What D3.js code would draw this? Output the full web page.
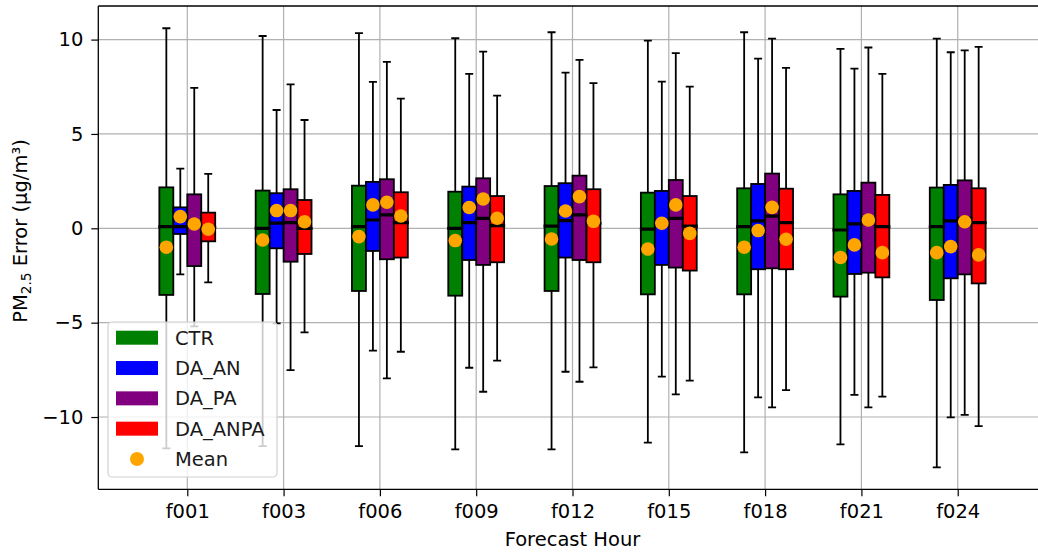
<!DOCTYPE html>
<html>
<head>
<meta charset="utf-8">
<script src="https://cdn.jsdelivr.net/npm/d3@7"></script>
<style>
  html, body { margin: 0; padding: 0; background: #fff; }
  svg { display: block; font-family: "DejaVu Sans", sans-serif; }
</style>
</head>
<body>
<svg id="chart" width="1038" height="554"></svg>
<script>
// ---------- data ----------
const categories = ["f001", "f003", "f006", "f009", "f012", "f015", "f018", "f021", "f024"];
const seriesNames = ["CTR", "DA_AN", "DA_PA", "DA_ANPA"];
const seriesColors = ["#008000", "#0000ff", "#800080", "#ff0000"];
const yTicks = [-10, -5, 0, 5, 10];

// [whiskerLow, q1, median, q3, whiskerHigh]
const ctrBoxes = [
  [-11.66, -3.53, 0.09, 2.17, 10.60],
  [-11.54, -3.48, 0.00, 2.00, 10.19],
  [-11.54, -3.32, 0.09, 2.26, 10.34],
  [-11.71, -3.57, 0.00, 1.94, 10.07],
  [-11.71, -3.32, 0.12, 2.24, 10.39],
  [-11.36, -3.50, -0.04, 1.89, 9.95],
  [-11.87, -3.50, 0.09, 2.12, 10.39],
  [-11.45, -3.62, -0.09, 1.80, 9.51],
  [-12.67, -3.80, 0.09, 2.16, 10.05]
];
const daAnBoxes = [
  [-2.44, -0.30, 0.09, 1.11, 3.16],
  [-5.04, -1.06, 0.27, 1.86, 6.27],
  [-6.48, -1.20, 0.44, 2.46, 7.76],
  [-7.39, -1.68, 0.30, 2.21, 8.18],
  [-7.60, -1.55, 0.41, 2.39, 8.25],
  [-7.86, -1.94, 0.21, 1.98, 7.77],
  [-8.96, -2.17, 0.39, 2.35, 8.99],
  [-8.83, -2.42, 0.23, 1.98, 8.46],
  [-10.02, -2.65, 0.39, 2.30, 9.33]
];
const daPaBoxes = [
  [-5.20, -2.00, 0.09, 1.80, 7.44],
  [-7.51, -1.77, 0.30, 2.07, 7.63],
  [-7.95, -1.64, 0.71, 2.60, 8.82],
  [-8.66, -1.94, 0.53, 2.65, 9.36],
  [-8.13, -1.68, 0.71, 2.79, 8.92],
  [-8.80, -2.08, 0.53, 2.56, 9.28],
  [-9.49, -2.12, 0.65, 2.90, 10.05],
  [-9.49, -2.35, 0.44, 2.42, 9.58],
  [-9.89, -2.44, 0.53, 2.54, 9.43]
];
const daAnpaBoxes = [
  [-2.86, -0.69, 0.05, 0.83, 2.88],
  [-5.51, -1.36, 0.00, 1.50, 5.74],
  [-6.54, -1.55, 0.30, 1.91, 6.87],
  [-7.01, -1.80, 0.14, 1.71, 7.03],
  [-7.37, -1.80, 0.27, 2.07, 7.69],
  [-8.07, -2.24, 0.12, 1.71, 7.51],
  [-8.57, -2.17, 0.30, 2.10, 8.50],
  [-8.92, -2.60, 0.09, 1.77, 8.18],
  [-10.48, -2.92, 0.30, 2.12, 9.61]
];
const ctrMeans    = [-1.00, -0.62, -0.44, -0.65, -0.57, -1.10, -1.00, -1.55, -1.29];
const daAnMeans   = [0.62, 0.94, 1.24, 1.10, 0.92, 0.27, -0.12, -0.88, -0.97];
const daPaMeans   = [0.23, 0.94, 1.38, 1.55, 1.68, 1.24, 1.11, 0.44, 0.35];
const daAnpaMeans = [-0.05, 0.35, 0.65, 0.53, 0.37, -0.27, -0.58, -1.29, -1.41];

const allBoxes = [ctrBoxes, daAnBoxes, daPaBoxes, daAnpaBoxes];
const allMeans = [ctrMeans, daAnMeans, daPaMeans, daAnpaMeans];

// ---------- layout ----------
const svg = d3.select("#chart");
const plot = { left: 98.3, right: 1046.7, top: 6, bottom: 489.3 };
const FONT = 19.5;

const x = d3.scaleLinear().domain([-0.924, 8.924]).range([plot.left, plot.right]);
const y = d3.scaleLinear().domain([-13.83, 11.78]).range([plot.bottom, plot.top]);
const sub = d3.scaleBand().domain(seriesNames).range([-0.29, 0.29]).padding(0);

svg.append("defs").append("clipPath").attr("id", "clip")
  .append("rect").attr("x", plot.left).attr("y", plot.top)
  .attr("width", plot.right - plot.left).attr("height", plot.bottom - plot.top);

// grid
const grid = svg.append("g").attr("clip-path", "url(#clip)");
grid.selectAll("line.gy").data(yTicks).join("line")
  .attr("x1", plot.left).attr("x2", plot.right)
  .attr("y1", d => y(d)).attr("y2", d => y(d))
  .attr("stroke", "#b0b0b0").attr("stroke-width", 1.2);
grid.selectAll("line.gx").data(categories).join("line")
  .attr("y1", plot.top).attr("y2", plot.bottom)
  .attr("x1", (d, i) => x(i)).attr("x2", (d, i) => x(i))
  .attr("stroke", "#b0b0b0").attr("stroke-width", 1.2);

// boxes
const marks = svg.append("g").attr("clip-path", "url(#clip)");
const capHalf = 4;
seriesNames.forEach((name, s) => {
  const g = marks.append("g");
  allBoxes[s].forEach((b, i) => {
    const x0 = x(i + sub(name));
    const x1 = x(i + sub(name) + sub.bandwidth());
    const xc = (x0 + x1) / 2;
    const [lo, q1, med, q3, hi] = b;
    // whiskers
    g.append("line").attr("x1", xc).attr("x2", xc).attr("y1", y(q3)).attr("y2", y(hi))
      .attr("stroke", "#000").attr("stroke-width", 1.8);
    g.append("line").attr("x1", xc).attr("x2", xc).attr("y1", y(q1)).attr("y2", y(lo))
      .attr("stroke", "#000").attr("stroke-width", 1.8);
    // caps
    [lo, hi].forEach(v => {
      g.append("line").attr("x1", xc - capHalf).attr("x2", xc + capHalf)
        .attr("y1", y(v)).attr("y2", y(v))
        .attr("stroke", "#000").attr("stroke-width", 1.8);
    });
    // box
    g.append("rect").attr("x", x0).attr("y", y(q3))
      .attr("width", x1 - x0).attr("height", y(q1) - y(q3))
      .attr("fill", seriesColors[s]).attr("stroke", "#000").attr("stroke-width", 1.8);
  });
});
// medians on top of boxes
seriesNames.forEach((name, s) => {
  allBoxes[s].forEach((b, i) => {
    const x0 = x(i + sub(name));
    const x1 = x(i + sub(name) + sub.bandwidth());
    marks.append("line").attr("x1", x0 - 1).attr("x2", x1 + 1)
      .attr("y1", y(b[2])).attr("y2", y(b[2]))
      .attr("stroke", "#000").attr("stroke-width", 3.2);
  });
});
// means
seriesNames.forEach((name, s) => {
  marks.append("g").selectAll("circle").data(allMeans[s]).join("circle")
    .attr("cx", (d, i) => x(i + sub(name) + sub.bandwidth() / 2))
    .attr("cy", d => y(d))
    .attr("r", 6.8)
    .attr("fill", "#ffa500");
});

// axes frame
svg.append("line").attr("x1", plot.left).attr("x2", plot.right).attr("y1", plot.top).attr("y2", plot.top)
  .attr("stroke", "#000").attr("stroke-width", 1.3);
svg.append("line").attr("x1", plot.left).attr("x2", plot.right).attr("y1", plot.bottom).attr("y2", plot.bottom)
  .attr("stroke", "#000").attr("stroke-width", 1.3);
svg.append("line").attr("x1", plot.left).attr("x2", plot.left).attr("y1", plot.top).attr("y2", plot.bottom)
  .attr("stroke", "#000").attr("stroke-width", 1.3);

// y axis
const yAxis = d3.axisLeft(y).tickValues(yTicks).tickSize(7).tickPadding(8)
  .tickFormat(d => d < 0 ? "\u2212" + Math.abs(d) : String(d));
const gy = svg.append("g").attr("transform", `translate(${plot.left},0)`).call(yAxis);
gy.select(".domain").remove();
gy.selectAll(".tick line").attr("stroke", "#000").attr("stroke-width", 1.2);
gy.selectAll(".tick text").attr("font-size", FONT).attr("fill", "#000")
  .attr("font-family", "DejaVu Sans");

// x axis
const xAxis = d3.axisBottom(x).tickValues(d3.range(categories.length)).tickSize(7).tickPadding(8)
  .tickFormat(i => categories[i]);
const gx = svg.append("g").attr("transform", `translate(0,${plot.bottom})`).call(xAxis);
gx.select(".domain").remove();
gx.selectAll(".tick line").attr("stroke", "#000").attr("stroke-width", 1.2);
gx.selectAll(".tick text").attr("font-size", FONT).attr("fill", "#000")
  .attr("font-family", "DejaVu Sans");

// axis titles
svg.append("text").attr("x", (plot.left + plot.right) / 2).attr("y", 546)
  .attr("text-anchor", "middle").attr("font-size", FONT).attr("fill", "#000")
  .text("Forecast Hour");
const yl = svg.append("text").attr("transform", "translate(27,231) rotate(-90)")
  .attr("text-anchor", "middle").attr("font-size", FONT).attr("fill", "#000");
yl.append("tspan").text("PM");
yl.append("tspan").attr("font-size", FONT * 0.7).attr("dy", 4).text("2.5");
yl.append("tspan").attr("dy", -4).text(" Error (\u03bcg/m\u00b3)");

// legend
const leg = svg.append("g");
leg.append("rect").attr("x", 108).attr("y", 322).attr("width", 169).attr("height", 155)
  .attr("rx", 4).attr("fill", "#fff").attr("fill-opacity", 0.8)
  .attr("stroke", "#d0d0d0").attr("stroke-width", 1.2);
const legItems = seriesNames.concat(["Mean"]);
const legY = d3.scalePoint().domain(legItems).range([337.7, 459]);
seriesNames.forEach((name, s) => {
  leg.append("rect").attr("x", 116).attr("y", legY(name) - 7).attr("width", 42).attr("height", 14)
    .attr("fill", seriesColors[s]);
});
leg.append("circle").attr("cx", 137).attr("cy", legY("Mean")).attr("r", 7).attr("fill", "#ffa500");
leg.selectAll("text").data(legItems).join("text")
  .attr("x", 175).attr("y", d => legY(d)).attr("dy", "0.36em")
  .attr("font-size", FONT).attr("fill", "#1a1a1a").text(d => d);
</script>
</body>
</html>
